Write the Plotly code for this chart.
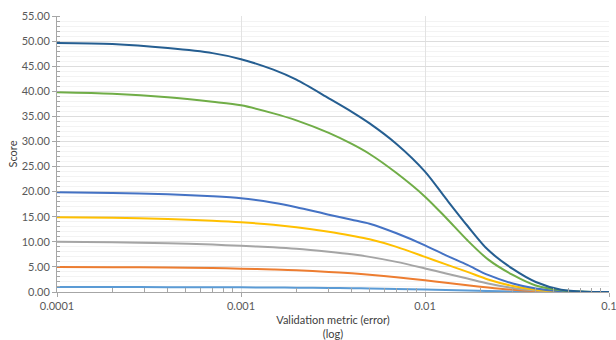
import plotly.graph_objects as go

x_vals = [0.0001, 0.0002, 0.0004, 0.0007, 0.001, 0.0015, 0.002, 0.003, 0.004, 0.005,
          0.007, 0.01, 0.013, 0.017, 0.022, 0.03, 0.04, 0.055, 0.075, 0.1]

s50 = [49.6, 49.4, 48.6, 47.6, 46.4, 44.3, 42.3, 38.6, 35.9, 33.6,
       29.5, 24.0, 18.6, 13.2, 8.4, 4.6, 2.0, 0.45, 0.05, 0.0]
s40 = [39.8, 39.5, 38.8, 37.9, 37.2, 35.6, 34.2, 31.7, 29.5, 27.5,
       23.7, 19.0, 14.8, 10.3, 6.5, 3.4, 1.3, 0.35, 0.03, 0.0]
s20 = [19.9, 19.75, 19.5, 19.1, 18.7, 17.8, 16.9, 15.4, 14.4, 13.6,
       11.7, 9.3, 7.3, 5.4, 3.4, 1.7, 0.7, 0.15, 0.02, 0.0]
s15 = [14.9, 14.8, 14.55, 14.2, 13.9, 13.4, 12.9, 12.0, 11.2, 10.5,
       9.0, 7.0, 5.5, 4.0, 2.5, 1.2, 0.45, 0.1, 0.01, 0.0]
s10 = [10.0, 9.9, 9.7, 9.45, 9.2, 8.9, 8.6, 8.0, 7.5, 7.0,
       6.0, 4.7, 3.7, 2.7, 1.7, 0.8, 0.3, 0.06, 0.01, 0.0]
s5 = [5.0, 4.95, 4.87, 4.76, 4.65, 4.5, 4.35, 4.0, 3.72, 3.45,
      2.95, 2.35, 1.85, 1.35, 0.9, 0.45, 0.17, 0.04, 0.0, 0.0]
s1 = [1.0, 0.99, 0.97, 0.95, 0.93, 0.9, 0.87, 0.8, 0.75, 0.7,
      0.6, 0.48, 0.38, 0.28, 0.19, 0.09, 0.03, 0.01, 0.0, 0.0]

series = [
    (s1, "#5B9BD5"),
    (s5, "#ED7D31"),
    (s10, "#A5A5A5"),
    (s15, "#FFC000"),
    (s20, "#4472C4"),
    (s40, "#70AD47"),
    (s50, "#255E91"),
]

x_tickvals = [0.0001, 0.001, 0.01, 0.1]
x_ticktext = ["0.0001", "0.001", "0.01", "0.1"]
decade_exps = [-4, -3, -2]
minor_mults = [2, 3, 4, 5, 6, 7, 8, 9]
x_minor_vals = [m * 10.0 ** e for e in decade_exps for m in minor_mults]

fig = go.Figure()
for ys, col in series:
    fig.add_trace(go.Scatter(x=x_vals, y=ys, mode="lines",
                             line=dict(color=col, width=2, shape="spline", smoothing=0.8),
                             showlegend=False, hoverinfo="skip"))

font_family = "Lato, 'Open Sans', sans-serif"
fig.update_layout(
    width=616, height=340,
    margin=dict(l=57, r=7, t=16, b=48),
    paper_bgcolor="white", plot_bgcolor="white",
    font=dict(family=font_family, size=11, color="#595959"),
)
fig.update_xaxes(
    type="log", range=[-4, -1],
    tickvals=x_tickvals, ticktext=x_ticktext,
    ticklabeloverflow="allow",
    showgrid=True, gridcolor="#E3E3E3", gridwidth=1,
    showline=True, linecolor="#A6A6A6", linewidth=1,
    ticks="outside", ticklen=4, tickcolor="#A6A6A6",
    minor=dict(tickmode="array", tickvals=x_minor_vals, ticks="inside", ticklen=4,
               tickcolor="#A6A6A6", showgrid=False),
    zeroline=False,
    title=dict(text="Validation metric (error)<br>(log)", font=dict(size=11, color="#404040"), standoff=6),
    tickfont=dict(size=11, color="#595959"),
    automargin=False,
)
fig.update_yaxes(
    range=[0, 55], dtick=5, tickformat=".2f",
    showgrid=True, gridcolor="#DDDDDD", gridwidth=1,
    showline=True, linecolor="#A6A6A6", linewidth=1,
    ticks="outside", ticklen=4, tickcolor="#A6A6A6",
    minor=dict(dtick=1, ticks="inside", ticklen=3, tickcolor="#A6A6A6",
               showgrid=True, gridcolor="#F3F3F3", gridwidth=1),
    zeroline=False,
    title=dict(text="Score", font=dict(size=11, color="#404040"), standoff=1),
    tickfont=dict(size=11, color="#595959"),
    automargin=False,
)

fig.write_html("out.html", config={"displayModeBar": False},
               post_script="document.body.style.margin='0';document.body.style.overflow='hidden';")
